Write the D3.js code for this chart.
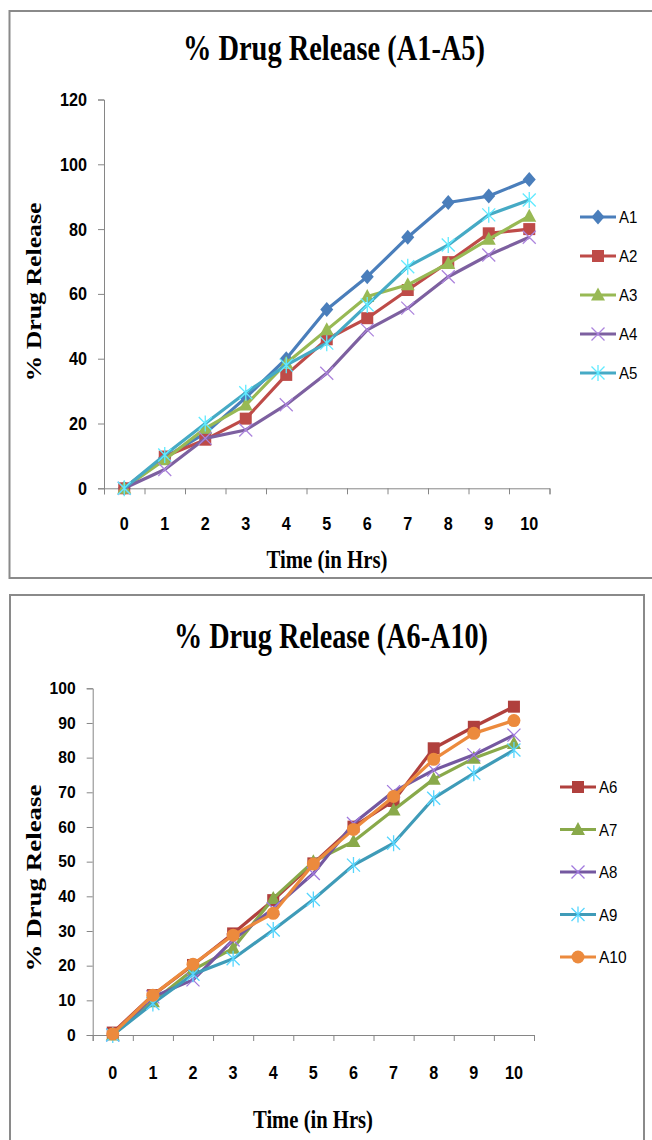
<!DOCTYPE html>
<html>
<head>
<meta charset="utf-8">
<script src="https://cdn.jsdelivr.net/npm/d3@7"></script>
<style>
body { margin: 0; background: #fff; }
svg text { fill: #000; }
</style>
</head>
<body>
<div id="container"></div>
<script>
// data
var hours = [0, 1, 2, 3, 4, 5, 6, 7, 8, 9, 10];

var namesTop = ["A1", "A2", "A3", "A4", "A5"];
var a1 = [0, 9.5, 17, 28, 40, 55.2, 65.3, 77.5, 88.2, 90.2, 95.3];
var a2 = [0, 9.8, 15, 21.5, 35, 46, 52.5, 61.2, 69.8, 78.7, 80];
var a3 = [0, 8.8, 18.5, 25.7, 38.6, 48.9, 59.2, 62.8, 69.4, 76.9, 84];
var a4 = [0, 5.8, 15.4, 18, 25.8, 35.5, 48.9, 55.6, 65.3, 72, 77.5];
var a5 = [0, 10.3, 20, 29.5, 38, 44.8, 56.6, 68.4, 75.1, 84.4, 89];
var ticksTop = [0, 20, 40, 60, 80, 100, 120];

var namesBottom = ["A6", "A7", "A8", "A9", "A10"];
var a6 = [0.7, 11.5, 20.2, 29.3, 38.9, 49.5, 60.1, 67.5, 82.7, 88.9, 94.7];
var a7 = [0, 9.6, 18.8, 25, 39.4, 50, 55.8, 64.9, 73.8, 79.8, 84.1];
var a8 = [0, 11, 15.9, 27.4, 36.5, 46.6, 61, 70.2, 76.4, 80.8, 86.5];
var a9 = [0, 9.1, 17.5, 22, 30.3, 39.1, 49, 55.3, 68.3, 75.5, 82.2];
var a10 = [0.3, 11.5, 20.4, 28.8, 35.1, 49.3, 59.3, 68.8, 79.5, 87, 90.7];
var ticksBottom = [0, 10, 20, 30, 40, 50, 60, 70, 80, 90, 100];

var colorsTop = ["#4a7ebb", "#be4b48", "#98b954", "#7d60a0", "#46aac5"];
var markersTop = ["diamond", "square", "triangle", "cross", "star"];
var colorsBottom = ["#b0403d", "#89a94a", "#7458a0", "#3f9bb8", "#ec8a3d"];
var markersBottom = ["square", "triangle", "cross", "star", "circle"];

var sansFont = "'Liberation Sans',Arial,sans-serif";
var serifFont = "'Liberation Serif','Times New Roman',serif";
var axisColor = "#868686";

var width = 652, height = 1140;

var svg = d3.select("#container").append("svg")
    .attr("width", width)
    .attr("height", height);

// squeeze text so it looks like the narrow Excel font
function narrow(sel, perChar) {
  sel.attr("lengthAdjust", "spacingAndGlyphs")
    .attr("textLength", function() { return this.textContent.length * perChar; });
}

function marker(g, type, cx, cy, color) {
  var s;
  if (type == "diamond") {
    g.append("path").attr("d", "M" + cx + "," + (cy - 7.5) + "L" + (cx + 6.5) + "," + cy + "L" + cx + "," + (cy + 7.5) + "L" + (cx - 6.5) + "," + cy + "Z")
      .attr("fill", color);
  } else if (type == "square") {
    g.append("rect").attr("x", cx - 6).attr("y", cy - 6).attr("width", 12).attr("height", 12)
      .attr("fill", color);
  } else if (type == "triangle") {
    g.append("path").attr("d", "M" + cx + "," + (cy - 7.5) + "L" + (cx + 7) + "," + (cy + 5.5) + "L" + (cx - 7) + "," + (cy + 5.5) + "Z")
      .attr("fill", color);
  } else if (type == "circle") {
    g.append("circle").attr("cx", cx).attr("cy", cy).attr("r", 6.5).attr("fill", color);
  } else if (type == "cross") {
    s = 6.5;
    g.append("path").attr("d", "M" + (cx - s) + "," + (cy - s) + "L" + (cx + s) + "," + (cy + s) + "M" + (cx + s) + "," + (cy - s) + "L" + (cx - s) + "," + (cy + s))
      .attr("stroke", d3.color(color).brighter(0.9)).attr("stroke-width", 1.3).attr("fill", "none");
  } else if (type == "star") {
    s = 6.5;
    g.append("path").attr("d", "M" + (cx - s) + "," + (cy - s) + "L" + (cx + s) + "," + (cy + s) + "M" + (cx + s) + "," + (cy - s) + "L" + (cx - s) + "," + (cy + s) + "M" + cx + "," + (cy - 8) + "L" + cx + "," + (cy + 8))
      .attr("stroke", d3.color(color).brighter(0.9)).attr("stroke-width", 1.3).attr("fill", "none");
  }
}

function drawChart(o) {
  var g = svg.append("g");

  // outer frame
  g.append("rect")
    .attr("x", o.box[0]).attr("y", o.box[1])
    .attr("width", o.box[2]).attr("height", o.box[3])
    .attr("fill", "none").attr("stroke", "#8a8a8a").attr("stroke-width", 2);

  g.append("text")
    .attr("x", o.title[1]).attr("y", o.title[2])
    .attr("textLength", o.title[3]).attr("lengthAdjust", "spacingAndGlyphs")
    .style("font-family", serifFont).style("font-weight", "bold").style("font-size", "35px")
    .text(o.title[0]);

  var x = d3.scaleBand().domain(hours).range([o.x0, o.x1]);
  var xEdge = d3.scaleLinear().domain([0, hours.length]).range([o.x0, o.x1]);
  var y = d3.scaleLinear().domain([0, o.ymax]).range([o.y0, o.y1]);

  // y axis
  var ya = g.append("g").attr("transform", "translate(" + o.x0 + ",0)")
    .call(d3.axisLeft(y).tickValues(o.ticks).tickSize(6).tickPadding(o.ypad));
  ya.selectAll("line,path").attr("stroke", axisColor);
  ya.selectAll("text")
    .style("font-family", sansFont).style("font-weight", "bold").style("font-size", o.yfont[0])
    .call(narrow, o.yfont[1]);

  // x axis: ticks between categories like Excel
  var xe = g.append("g").attr("transform", "translate(0," + o.y0 + ")")
    .call(d3.axisBottom(xEdge).ticks(hours.length).tickSize(6).tickFormat(""));
  xe.selectAll("line,path").attr("stroke", axisColor);
  var xl = g.append("g").attr("transform", "translate(0," + o.y0 + ")")
    .call(d3.axisBottom(x).tickSize(0));
  xl.select(".domain").remove();
  xl.selectAll("text")
    .attr("y", o.xlab).attr("dy", null)
    .style("font-family", sansFont).style("font-weight", "bold").style("font-size", "18.5px")
    .call(narrow, 9);

  // axis titles
  g.append("text")
    .attr("x", o.xtitle[0]).attr("y", o.xtitle[1])
    .attr("text-anchor", "middle")
    .attr("textLength", o.xtitle[2]).attr("lengthAdjust", "spacingAndGlyphs")
    .style("font-family", serifFont).style("font-weight", "bold").style("font-size", "25px")
    .text("Time (in Hrs)");
  g.append("text")
    .attr("transform", "translate(" + o.ytitle[0] + "," + o.ytitle[1] + ") rotate(-90)")
    .attr("text-anchor", "middle")
    .attr("textLength", o.ytitle[2]).attr("lengthAdjust", "spacingAndGlyphs")
    .style("font-family", serifFont).style("font-weight", "bold").style("font-size", "21px")
    .text("% Drug Release");

  var line = d3.line()
    .x(function(d, i) { return x(hours[i]) + x.bandwidth() / 2; })
    .y(function(d) { return y(d); });

  o.series.forEach(function(vals, k) {
    var col = o.colors[k];
    g.append("path").datum(vals)
      .attr("d", line)
      .attr("fill", "none").attr("stroke", col).attr("stroke-width", 3.2)
      .attr("stroke-linejoin", "round");
    var mg = g.append("g");
    vals.forEach(function(v, i) {
      marker(mg, o.markers[k], x(hours[i]) + x.bandwidth() / 2, y(v), col);
    });
  });

  // legend
  o.names.forEach(function(name, k) {
    var ly = o.legend[1] + k * o.legend[2];
    var lg = g.append("g");
    lg.append("line")
      .attr("x1", o.legend[0]).attr("x2", o.legend[0] + 36)
      .attr("y1", ly).attr("y2", ly)
      .attr("stroke", o.colors[k]).attr("stroke-width", 3.2);
    marker(lg, o.markers[k], o.legend[0] + 18, ly, o.colors[k]);
    lg.append("text")
      .attr("x", o.legend[0] + 39).attr("y", ly + 6)
      .style("font-family", sansFont).style("font-size", "16.5px")
      .text(name)
      .call(narrow, 9.2);
  });
}

drawChart({
  box: [9.5, 11, 660, 567],
  title: ["% Drug Release (A1-A5)", 183, 60, 302],
  x0: 104, x1: 549.5, y0: 488.3, y1: 99.5, ymax: 120,
  ticks: ticksTop, ypad: 11, yfont: ["18.5px", 9], xlab: 42,
  xtitle: [327, 568, 121], ytitle: [41, 292, 179],
  series: [a1, a2, a3, a4, a5],
  names: namesTop, colors: colorsTop, markers: markersTop,
  legend: [580, 217, 39]
});

drawChart({
  box: [10, 595, 634, 600],
  title: ["% Drug Release (A6-A10)", 174, 648, 314],
  x0: 92.7, x1: 534, y0: 1035, y1: 688.3, ymax: 100,
  ticks: ticksBottom, ypad: 11, yfont: ["16px", 8.7], xlab: 44,
  xtitle: [313, 1128, 120], ytitle: [41, 878, 187],
  series: [a6, a7, a8, a9, a10],
  names: namesBottom, colors: colorsBottom, markers: markersBottom,
  legend: [560, 787, 42.5]
});
</script>
</body>
</html>
